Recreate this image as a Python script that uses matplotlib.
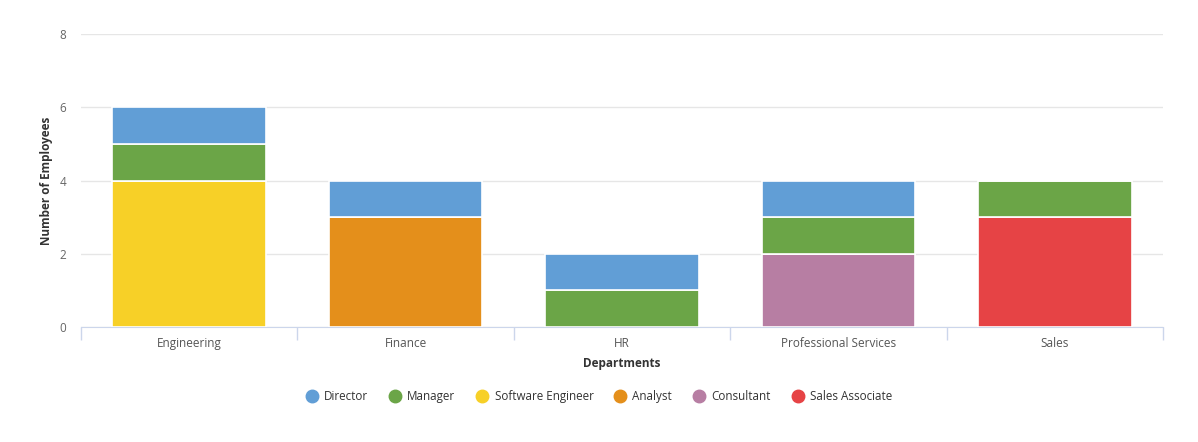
import matplotlib.pyplot as plt
from matplotlib.lines import Line2D
import numpy as np

plt.rcParams['font.family'] = ['Open Sans', 'DejaVu Sans']

departments = ['Engineering', 'Finance', 'HR', 'Professional Services', 'Sales']
roles = ['Director', 'Manager', 'Software Engineer', 'Analyst', 'Consultant', 'Sales Associate']
colors = ['#619ED6', '#6BA547', '#F7D027', '#E48F1B', '#B77EA3', '#E64345']

# counts per role, one value per department
director = [1, 1, 1, 1, 0]
manager = [1, 0, 1, 1, 1]
software_engineer = [4, 0, 0, 0, 0]
analyst = [0, 3, 0, 0, 0]
consultant = [0, 0, 0, 2, 0]
sales_associate = [0, 0, 0, 0, 3]

# stacked bottom-up in this order
stack_order = [
    ('Software Engineer', software_engineer),
    ('Analyst', analyst),
    ('Consultant', consultant),
    ('Sales Associate', sales_associate),
    ('Manager', manager),
    ('Director', director),
]
color_of = dict(zip(roles, colors))

fig = plt.figure(figsize=(11.98, 4.42), dpi=100)
ax = fig.add_axes([0.0676, 0.260, 0.9032, 0.663])

x = np.arange(len(departments))
bottom = np.zeros(len(departments))
for name, vals in stack_order:
    vals = np.array(vals, dtype=float)
    ax.bar(x, vals, width=0.71, bottom=bottom, color=color_of[name],
           edgecolor='white', linewidth=1.2, zorder=3)
    bottom += vals

ax.set_xlim(-0.5, len(departments) - 0.5)
ax.set_ylim(0, 8)
ax.set_yticks([0, 2, 4, 6, 8])
ax.yaxis.grid(True, color='#e6e6e6', linewidth=1, zorder=0)
ax.tick_params(axis='y', length=0, pad=10.5, labelsize=8.5, labelcolor='#666666')

ax.set_xticks(x)
ax.set_xticklabels(departments)
ax.tick_params(axis='x', length=0, pad=7, labelsize=8.5, labelcolor='#555555')
ax.set_xticks(np.arange(-0.5, len(departments)), minor=True)
ax.tick_params(axis='x', which='minor', length=9, color='#ccd6eb', width=1)

for s in ['top', 'right', 'left']:
    ax.spines[s].set_visible(False)
ax.spines['bottom'].set_color('#ccd6eb')

ax.set_xlabel('Departments', fontsize=8.5, fontweight='bold', color='#333333', labelpad=5)
ax.set_ylabel('Number of Employees', fontsize=8.5, fontweight='bold', color='#333333', labelpad=5)

handles = [Line2D([0], [0], marker='o', linestyle='', markersize=9,
                  markerfacecolor=c, markeredgecolor=c) for c in colors]
fig.legend(handles, roles, loc='center', bbox_to_anchor=(0.5, 0.102), ncol=6,
           frameon=False, fontsize=8.4, handlelength=1.0, handletextpad=0.55,
           columnspacing=1.8, labelcolor='#333333')

fig.savefig('out.png', dpi=100)
